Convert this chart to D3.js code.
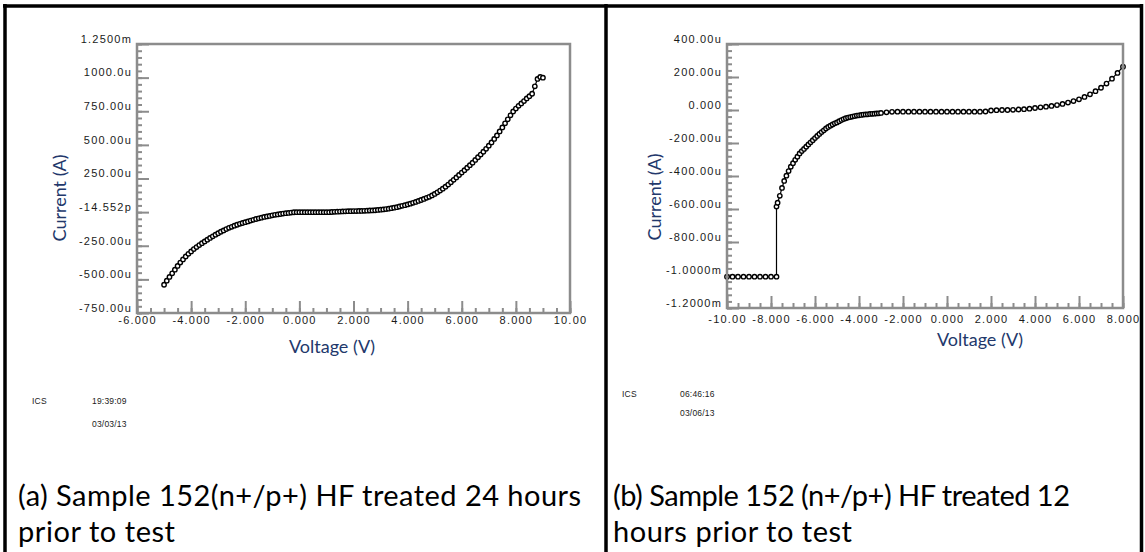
<!DOCTYPE html>
<html>
<head>
<meta charset="utf-8">
<script src="https://cdn.jsdelivr.net/npm/d3@7"></script>
<style>
  body { margin: 0; background: #fff; }
  svg { display: block; }
</style>
</head>
<body>
<svg id="fig" width="1145" height="552"></svg>
<script>
// ---- data (voltage in V, current in uA) ----
var ivA = [[-5.0,-540],[-4.9,-510],[-4.8,-482],[-4.7,-455],[-4.6,-428],[-4.5,-400],[-4.4,-375],[-4.3,-352],[-4.2,-330],[-4.1,-310],
  [-4.0,-292],[-3.9,-275],[-3.8,-260],[-3.7,-245],[-3.6,-231],[-3.5,-218],[-3.4,-205],[-3.3,-192],[-3.2,-180],[-3.1,-168],
  [-3.0,-157],[-2.9,-146],[-2.8,-136],[-2.7,-126],[-2.6,-117],[-2.5,-109],[-2.4,-101],[-2.3,-94],[-2.2,-87],[-2.1,-81],
  [-2.0,-75],[-1.9,-69],[-1.8,-63],[-1.7,-57],[-1.6,-51],[-1.5,-46],[-1.4,-41],[-1.3,-36],[-1.2,-32],[-1.1,-28],
  [-1.0,-24],[-0.9,-20],[-0.8,-17],[-0.7,-14],[-0.6,-11],[-0.5,-8],[-0.4,-6],[-0.3,-3],[-0.2,-1],[-0.1,0],
  [0.0,0],[0.1,0],[0.2,0],[0.3,0],[0.4,0],[0.5,0],[0.6,0],[0.7,0],[0.8,0],[0.9,0],
  [1.0,0],[1.1,0],[1.2,1],[1.3,2],[1.4,3],[1.5,4],[1.6,5],[1.7,6],[1.8,7],[1.9,7],
  [2.0,8],[2.1,8],[2.2,9],[2.3,9],[2.4,10],[2.5,11],[2.6,12],[2.7,13],[2.8,14],[2.9,16],
  [3.0,18],[3.1,20],[3.2,23],[3.3,26],[3.4,29],[3.5,33],[3.6,37],[3.7,42],[3.8,47],[3.9,52],
  [4.0,57],[4.1,63],[4.2,69],[4.3,76],[4.4,83],[4.5,90],[4.6,98],[4.7,106],[4.8,114],[4.9,124],
  [5.0,135],[5.1,147],[5.2,160],[5.3,174],[5.4,189],[5.5,205],[5.6,222],[5.7,240],[5.8,258],[5.9,276],
  [6.0,294],[6.1,312],[6.2,330],[6.3,349],[6.4,368],[6.5,388],[6.6,408],[6.7,428],[6.8,449],[6.9,471],
  [7.0,494],[7.1,518],[7.2,544],[7.3,570],[7.4,600],[7.5,630],[7.6,660],[7.7,690],[7.8,720],[7.9,748],
  [8.0,770],[8.1,790],[8.2,808],[8.3,826],[8.4,845],[8.5,862],[8.6,880],[8.7,935],[8.8,990],[8.9,1005],[9.0,1000]];

var ivB = [[-10.0,-1010],[-9.75,-1010],[-9.5,-1010],[-9.25,-1010],[-9.0,-1010],[-8.75,-1010],[-8.5,-1010],[-8.25,-1010],[-8.0,-1010],[-7.75,-1010],
  [-7.75,-585],[-7.7,-562],[-7.6,-520],[-7.5,-472],[-7.4,-430],[-7.3,-398],[-7.2,-370],[-7.1,-344],[-7.0,-322],[-6.9,-302],
  [-6.8,-283],[-6.7,-263],[-6.6,-249],[-6.5,-236],[-6.4,-222],[-6.3,-209],[-6.2,-196],[-6.1,-183],[-6.0,-170],[-5.9,-157],
  [-5.8,-145],[-5.7,-134],[-5.6,-123],[-5.5,-112],[-5.4,-103],[-5.3,-95],[-5.2,-88],[-5.1,-81],[-5.0,-75],[-4.9,-68],
  [-4.8,-61],[-4.7,-55],[-4.6,-50],[-4.5,-46],[-4.4,-43],[-4.3,-40],[-4.2,-37],[-4.1,-34],[-4.0,-32],[-3.9,-30],
  [-3.8,-28],[-3.7,-27],[-3.6,-26],[-3.5,-24],[-3.4,-23],[-3.3,-22],[-3.2,-21],[-3.1,-20],[-3.0,-18],[-2.75,-14],
  [-2.5,-11],[-2.25,-10],[-2.0,-10],[-1.75,-10],[-1.5,-10],[-1.25,-10],[-1.0,-10],[-0.75,-10],[-0.5,-10],[-0.25,-10],
  [0.0,-10],[0.25,-10],[0.5,-10],[0.75,-10],[1.0,-10],[1.25,-10],[1.5,-10],[1.75,-9],[2.0,-3],[2.25,-1],
  [2.5,0],[2.75,0],[3.0,1],[3.25,3],[3.5,5],[3.75,8],[4.0,12],[4.25,16],[4.5,20],[4.75,25],
  [5.0,30],[5.25,37],[5.5,45],[5.75,54],[6.0,65],[6.25,79],[6.5,95],[6.75,114],[7.0,135],[7.25,160],
  [7.5,190],[7.75,225],[8.0,262]];

var xTicksA = [-6, -4, -2, 0, 2, 4, 6, 8, 10];
var xLabelsA = ['-6.000', '-4.000', '-2.000', '0.000', '2.000', '4.000', '6.000', '8.000', '10.00'];
var yTicksA = [1250, 1000, 750, 500, 250, 0, -250, -500, -750];
var yLabelsA = ['1.2500m', '1000.0u', '750.00u', '500.00u', '250.00u', '-14.552p', '-250.00u', '-500.00u', '-750.00u'];

var xTicksB = [-10, -8, -6, -4, -2, 0, 2, 4, 6, 8];
var xLabelsB = ['-10.00', '-8.000', '-6.000', '-4.000', '-2.000', '0.000', '2.000', '4.000', '6.000', '8.000'];
var yTicksB = [400, 200, 0, -200, -400, -600, -800, -1000, -1200];
var yLabelsB = ['400.00u', '200.00u', '0.000', '-200.00u', '-400.00u', '-600.00u', '-800.00u', '-1.0000m', '-1.2000m'];

var stampA = ['ICS', '19:39:09', '03/03/13'];
var stampB = ['ICS', '06:46:16', '03/06/13'];
var captionA = ['(a) Sample 152(n+/p+) HF treated 24 hours', 'prior to test'];
var captionB = ['(b) Sample 152 (n+/p+) HF treated 12', 'hours prior to test'];

//-------------------

var svg = d3.select('#fig');
var gridGray = '#8c8c8c';
var titleColor = '#22386b';

var panelA = {
  data: ivA, left: 137, right: 570, top: 44, bottom: 313,
  xDom: [-6, 10], yDom: [-750, 1250], xStep: 0.5, yStep: 50,
  xTicks: xTicksA, xLabels: xLabelsA, yTicks: yTicksA, yLabels: yLabelsA,
  xPad: 3, yTitleX: 60, yTitleY: 198, xTitleX: 332, xTitleY: 353,
  stamp: stampA, stampX: [32, 92], stampY: [404, 427],
  caption: captionA, capX: 18, capY: [506, 542], capW: [563, 157]
};
var panelB = {
  data: ivB, left: 727, right: 1123, top: 44, bottom: 308,
  xDom: [-10, 8], yDom: [-1200, 400], xStep: 0.5, yStep: 40,
  xTicks: xTicksB, xLabels: xLabelsB, yTicks: yTicksB, yLabels: yLabelsB,
  xPad: 7, yTitleX: 655, yTitleY: 197, xTitleX: 980, xTitleY: 346,
  stamp: stampB, stampX: [622, 680], stampY: [397, 416],
  caption: captionB, capX: 613, capY: [506, 542], capW: [457, 239]
};

function styleAxis(sel) {
  sel.select('.domain').remove();
  sel.selectAll('line').attr('stroke', gridGray).attr('stroke-width', 2);
  sel.attr('font-family', 'Liberation Sans, Arial, sans-serif')
    .attr('font-size', 11);
  sel.selectAll('text').attr('fill', '#1a1a1a').style('letter-spacing', '1.2px');
}

function drawPanel(p) {
  var x = d3.scaleLinear().domain(p.xDom).range([p.left, p.right]);
  var y = d3.scaleLinear().domain(p.yDom).range([p.bottom, p.top]);
  var g = svg.append('g');

  //minor ticks
  var xMinor = d3.range(p.xDom[0], p.xDom[1] + 1e-9, p.xStep);
  var yMinor = d3.range(p.yDom[0], p.yDom[1] + 1e-9, p.yStep);
  g.append('g')
    .attr('transform', 'translate(0,' + p.bottom + ')')
    .call(d3.axisBottom(x).tickValues(xMinor).tickSize(-5).tickFormat(''))
    .call(styleAxis);
  g.append('g')
    .attr('transform', 'translate(' + p.left + ',0)')
    .call(d3.axisLeft(y).tickValues(yMinor).tickSize(-5).tickFormat(''))
    .call(styleAxis);

  //major ticks + labels
  g.append('g')
    .attr('transform', 'translate(0,' + p.bottom + ')')
    .call(d3.axisBottom(x).tickValues(p.xTicks).tickSize(-12).tickPadding(p.xPad)
      .tickFormat(function(d, i) { return p.xLabels[i]; }))
    .call(styleAxis);
  var ya = g.append('g')
    .attr('transform', 'translate(' + p.left + ',0)')
    .call(d3.axisLeft(y).tickValues(p.yTicks).tickSize(-12).tickPadding(5)
      .tickFormat(function(d, i) { return p.yLabels[i]; }))
    .call(styleAxis);
  ya.selectAll('text').attr('dy', '-0.15em');

  //curve
  var line = d3.line()
    .x(function(d) { return x(d[0]); })
    .y(function(d) { return y(d[1]); });
  g.append('path')
    .datum(p.data)
    .attr('d', line)
    .attr('fill', 'none')
    .attr('stroke', '#000')
    .attr('stroke-width', 1.2);
  g.selectAll('circle')
    .data(p.data)
    .enter()
    .append('circle')
    .attr('cx', function(d) { return x(d[0]); })
    .attr('cy', function(d) { return y(d[1]); })
    .attr('r', 2.2)
    .attr('fill', '#fff')
    .attr('stroke', '#000')
    .attr('stroke-width', 1.4);

  //plot frame
  g.append('rect')
    .attr('x', p.left).attr('y', p.top)
    .attr('width', p.right - p.left).attr('height', p.bottom - p.top)
    .attr('fill', 'none')
    .attr('stroke', gridGray)
    .attr('stroke-width', 2.5);

  //axis titles
  g.append('text')
    .attr('transform', 'translate(' + p.yTitleX + ',' + p.yTitleY + ') rotate(-90)')
    .attr('text-anchor', 'middle')
    .attr('dy', '0.35em')
    .style('font-family', 'Lato, sans-serif')
    .style('font-size', '18px')
    .style('fill', titleColor)
    .text('Current (A)');
  g.append('text')
    .attr('x', p.xTitleX).attr('y', p.xTitleY)
    .attr('text-anchor', 'middle')
    .style('font-family', 'Lato, sans-serif')
    .style('font-size', '18px')
    .style('fill', titleColor)
    .text('Voltage (V)');

  //instrument stamp
  var st = g.append('g')
    .style('font-family', 'Liberation Sans, Arial, sans-serif')
    .style('font-size', '8.5px')
    .style('fill', '#1a1a1a')
    .style('letter-spacing', '0.2px');
  st.append('text').attr('x', p.stampX[0]).attr('y', p.stampY[0]).text(p.stamp[0]);
  st.append('text').attr('x', p.stampX[1]).attr('y', p.stampY[0]).text(p.stamp[1]);
  st.append('text').attr('x', p.stampX[1]).attr('y', p.stampY[1]).text(p.stamp[2]);

  //caption
  g.selectAll('.cap')
    .data(p.caption)
    .enter()
    .append('text')
    .attr('class', 'cap')
    .attr('x', p.capX)
    .attr('y', function(d, i) { return p.capY[i]; })
    .attr('textLength', function(d, i) { return p.capW[i]; })
    .attr('lengthAdjust', 'spacing')
    .style('font-family', 'Lato, sans-serif')
    .style('font-size', '29px')
    .style('fill', '#000')
    .text(function(d) { return d; });
}

drawPanel(panelA);
drawPanel(panelB);

//table borders
var border = svg.append('g').attr('stroke', '#000').attr('stroke-width', 3.5);
border.append('line').attr('x1', 3).attr('x2', 1143).attr('y1', 6).attr('y2', 6);
border.append('line').attr('x1', 5).attr('x2', 5).attr('y1', 4).attr('y2', 552);
border.append('line').attr('x1', 606).attr('x2', 606).attr('y1', 4).attr('y2', 552);
border.append('line').attr('x1', 1141.5).attr('x2', 1141.5).attr('y1', 4).attr('y2', 552);
</script>
</body>
</html>
